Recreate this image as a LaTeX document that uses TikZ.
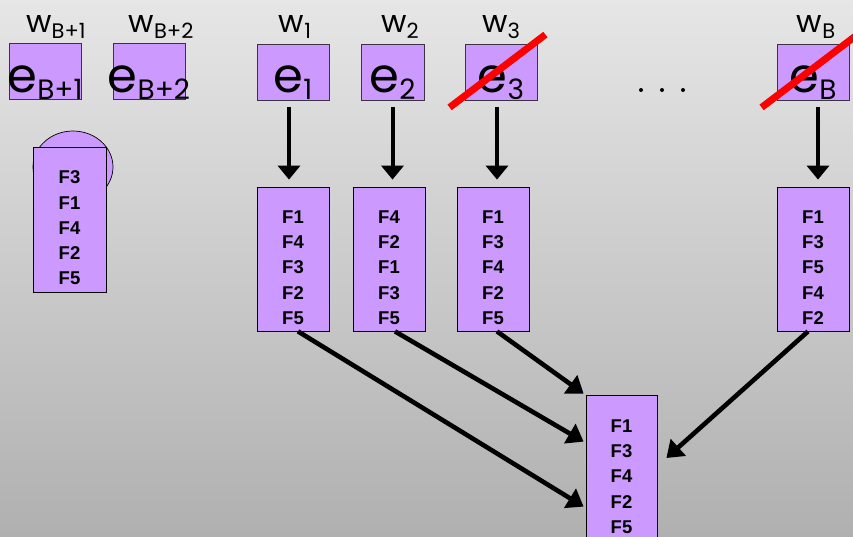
\documentclass[tikz,border=0pt]{standalone}
\usepackage{fontspec}
\setmainfont{Liberation Sans}
\newfontfamily\geofont{Poppins}
\usetikzlibrary{arrows.meta,calc}
\definecolor{purp}{HTML}{CC99FF}
\definecolor{bgtop}{HTML}{E6E6E6}
\definecolor{bgbot}{HTML}{B0B0B0}
\definecolor{eborder}{HTML}{3A3345}
\newcommand{\wlab}[1]{{\geofont\fontsize{31}{31}\selectfont w\raisebox{-6pt}{\fontsize{21}{21}\selectfont #1}}}
\newcommand{\elab}[1]{{\geofont\fontsize{48}{48}\selectfont e\raisebox{-7pt}{\fontsize{28}{28}\selectfont #1}}}
\tikzset{
  ebox/.style={draw=eborder, line width=0.8pt, fill=purp, minimum width=72pt, minimum height=56pt, inner sep=0pt},
  etext/.style={anchor=base, inner sep=0pt},
  wtext/.style={anchor=base, inner sep=0pt},
  fbox/.style={draw=black, line width=0.8pt, fill=purp, minimum width=72pt, minimum height=144pt, inner sep=0pt},
  ftext/.style={align=center, inner sep=0pt, font=\bfseries\fontsize{18.5}{25.3}\selectfont},
  darrow/.style={line width=4pt, -{Triangle[width=22pt,length=14pt]}},
  diagarrow/.style={line width=4.6pt, -{Triangle[width=22pt,length=16pt]}},
  strike/.style={draw=red, line width=7pt}
}
\begin{document}
\begin{tikzpicture}[x=1pt,y=-1pt]
\useasboundingbox (0,0) rectangle (853,536);
\clip (0,0) rectangle (853,536);
\shade[top color=bgtop, bottom color=bgbot] (0,0) rectangle (853,536);

% top boxes
\node[ebox] (eB1) at (45,71) {};
\node[ebox] (eB2) at (149,71) {};
\node[ebox] (e1) at (293,72) {};
\node[ebox, minimum width=63pt] (e2) at (392.5,72) {};
\node[ebox] (e3) at (501,72) {};
\node[ebox] (eB) at (813,72) {};

\node[etext] (eB1t) at (45,92) {\elab{B+1}};
\node[etext] (eB2t) at (149,92) {\elab{B+2}};
\node[etext] (e1t) at (293,92) {\elab{1}};
\node[etext] (e2t) at (392.5,92) {\elab{2}};
\node[etext] (e3t) at (501,92) {\elab{3}};
\node[etext] (eBt) at (813,92) {\elab{B}};

\node[wtext] (wB1) at (56,32) {\wlab{B+1}};
\node[wtext] (wB2) at (161,32) {\wlab{B+2}};
\node[wtext] (w1) at (295,32) {\wlab{1}};
\node[wtext] (w2) at (400,32) {\wlab{2}};
\node[wtext] (w3) at (501,32) {\wlab{3}};
\node[wtext] (wB) at (816,32) {\wlab{B}};

% dots
\fill (641,90) circle (2pt);
\fill (662,90) circle (2pt);
\fill (683,90) circle (2pt);

% left stack with ellipse behind
\draw[black, line width=0.7pt, fill=purp] (73,167) ellipse [x radius=40pt, y radius=36pt];
\node[fbox, minimum height=145pt, minimum width=73pt] (L) at (69.5,219.5) {};
\node[ftext] (Lt) at (69.5,228) {F3\\F1\\F4\\F2\\F5};

% middle stacks
\node[fbox] (c1) at (293,259) {};
\node[ftext] (c1t) at (293,267.5) {F1\\F4\\F3\\F2\\F5};
\node[fbox] (c2) at (389,259) {};
\node[ftext] (c2t) at (389,267.5) {F4\\F2\\F1\\F3\\F5};
\node[fbox] (c3) at (493,259) {};
\node[ftext] (c3t) at (493,267.5) {F1\\F3\\F4\\F2\\F5};
\node[fbox] (c4) at (813,259) {};
\node[ftext] (c4t) at (813,267.5) {F1\\F3\\F5\\F4\\F2};

% result stack
\node[fbox, minimum width=71pt] (R) at (621.5,467) {};
\node[ftext] (Rt) at (621.5,476.5) {F1\\F3\\F4\\F2\\F5};

% down arrows
\draw[darrow, shorten <=7pt, shorten >=7pt] ([xshift=-4pt]e1.south) -- ([xshift=-4pt]e1.south |- c1.north);
\draw[darrow, shorten <=7pt, shorten >=7pt] (e2.south) -- (e2.south |- c2.north);
\draw[darrow, shorten <=7pt, shorten >=7pt] ([xshift=-4pt]e3.south) -- ([xshift=-4pt]e3.south |- c3.north);
\draw[darrow, shorten <=7pt, shorten >=7pt] ([xshift=5pt]eB.south) -- ([xshift=5pt]eB.south |- c4.north);

% diagonal arrows
\draw[diagarrow] ($(c1.south)+(5,0)$) -- ($(R.north west)+(-2,112)$);
\draw[diagarrow] ($(c2.south)+(6,0)$) -- ($(R.north west)+(-2,47)$);
\draw[diagarrow] ($(c3.south)+(4,0)$) -- ($(R.north west)+(-2,-1)$);
\draw[diagarrow] ($(c4.south)+(-5,0)$) -- ($(R.east)+(9,-9)$);

% strike-outs
\draw[strike] ($(e3.south west)+(-15,7)$) -- ($(e3.north east)+(8,-9)$);
\draw[strike] ($(eB.south west)+(-15,7)$) -- ($(eB.north east)+(8,-9)$);
\end{tikzpicture}
\end{document}
